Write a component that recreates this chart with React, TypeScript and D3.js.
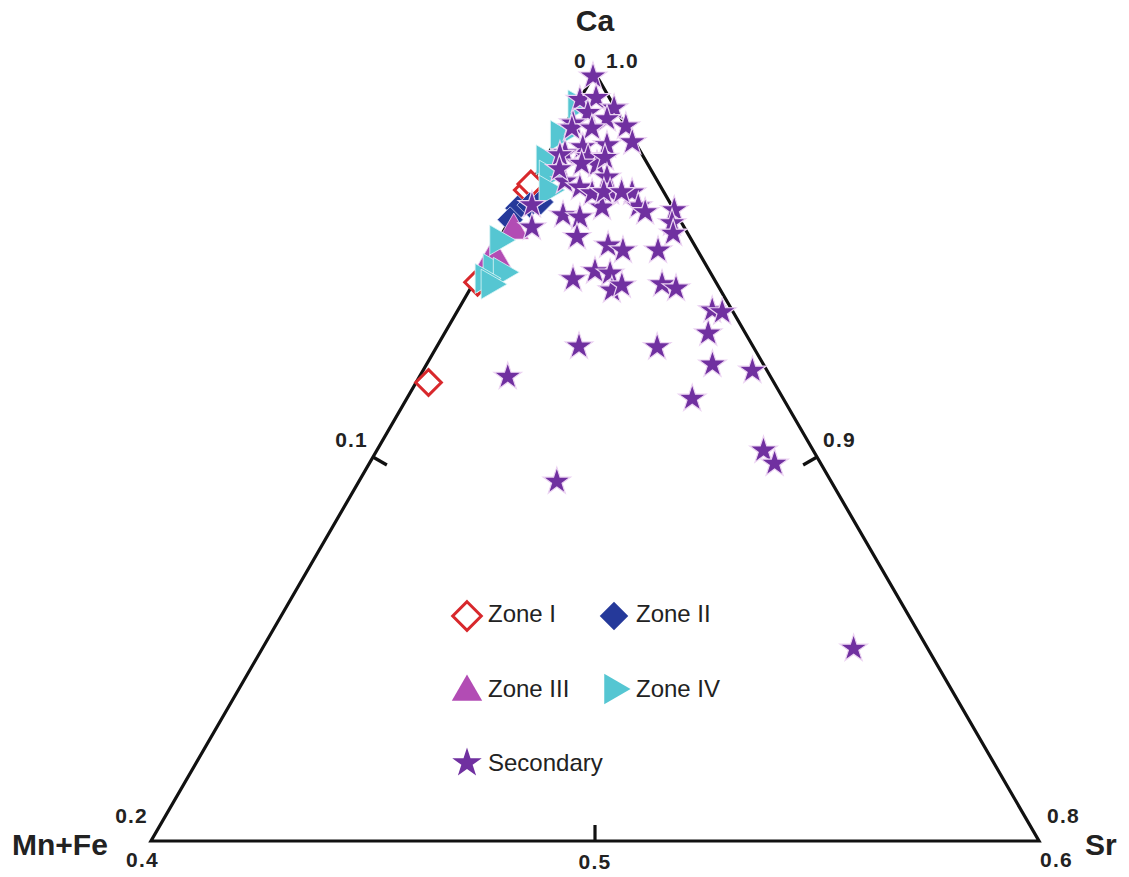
import React from "react";
import * as d3 from "d3";

const W = 1129;
const H = 877;

// Each point: [Mn+Fe, Sr] mole fractions; Ca = 1 − (Mn+Fe) − Sr
const zoneI: [number, number][] = [
  [0.0778, 0.0028], [0.0305, 0.0], [0.0289, 0.0], [0.0537, 0.0008],
];
const zoneII: [number, number][] = [
  [0.035, 0.0002], [0.0319, 0.0025], [0.029, 0.0046], [0.0382, 0.0],
];
const zoneIII: [number, number][] = [
  [0.0388, 0.0022], [0.0483, 0.0009], [0.0465, 0.0023],
];
const zoneIV: [number, number][] = [
  [0.0083, 0.0], [0.0162, 0.0], [0.0226, 0.0], [0.0239, 0.0027], [0.0259, 0.0046],
  [0.0435, 0.0], [0.0487, 0.0022], [0.0469, 0.005], [0.0518, 0.0017], [0.0512, 0.0038],
];
const secondary: [number, number][] = [
  [0.0009, 0.0], [0.0069, 0.0001], [0.003, 0.0035], [0.0003, 0.0089], [0.0068, 0.0036],
  [0.0115, 0.0016], [0.0033, 0.0087], [0.0, 0.0139], [0.0124, 0.002], [0.0079, 0.0065],
  [0.0006, 0.0174], [0.0067, 0.0121], [0.0124, 0.0069], [0.0172, 0.0037], [0.0125, 0.0094],
  [0.0115, 0.0124], [0.0088, 0.0133], [0.0209, 0.0073], [0.0183, 0.0115], [0.0109, 0.0163],
  [0.0163, 0.015], [0.0121, 0.0189], [0.0072, 0.0239], [0.0076, 0.0271], [0.0068, 0.0294],
  [0.0159, 0.0191], [0.0257, 0.0113], [0.0222, 0.0154], [0.0314, 0.003], [0.0343, 0.0059],
  [0.0186, 0.0028], [0.0, 0.0357], [0.0022, 0.0369], [0.0033, 0.0385], [0.0254, 0.0173],
  [0.0195, 0.0254], [0.0168, 0.0294], [0.0089, 0.0373], [0.0318, 0.0219], [0.0258, 0.0258],
  [0.0227, 0.0295], [0.0245, 0.0321], [0.0216, 0.0337], [0.0124, 0.0426], [0.0098, 0.0463],
  [0.0592, 0.0199], [0.0392, 0.032], [0.0217, 0.0497], [0.0084, 0.0594], [0.0045, 0.0573],
  [0.0025, 0.0598], [0.0115, 0.0644], [0.0033, 0.0742], [0.0205, 0.0643], [0.0112, 0.0871],
  [0.0104, 0.0913], [0.0618, 0.0446], [0.0167, 0.1332],
  [0.0205, 0.0045], [0.0148, 0.0088], [0.0135, 0.0175], [0.0095, 0.0215],
];

// Axis tick labels
const mnfeTicks = ["0", "0.1", "0.2"]; // left edge, apex → bottom-left
const caTicks = ["1.0", "0.9", "0.8"]; // right edge, apex → bottom-right
const bottomTicks = ["0.4", "0.5", "0.6"]; // bottom edge, left → right
const axisNames = { top: "Ca", left: "Mn+Fe", right: "Sr" };
const legendNames = ["Zone I", "Zone II", "Zone III", "Zone IV", "Secondary"];

const FONT = "'Liberation Sans', Arial, Helvetica, sans-serif";
const COL = {
  z1: "#d8282c",
  z2: "#25399a",
  z3: "#b24cb4",
  z4: "#55c6d2",
  sec: "#7030a0",
};

// scales: Ca controls y, (Sr − MnFe) controls x
const yScale = d3.scaleLinear().domain([0.8, 1.0]).range([841, 73]);
const xScale = d3.scaleLinear().domain([-0.2, 0.2]).range([151, 1039]);

function proj(mnfe: number, sr: number): [number, number] {
  const ca = 1 - mnfe - sr;
  return [xScale(sr - mnfe), yScale(ca)];
}

const starPath = d3.symbol().type(d3.symbolStar).size(235)()!;
const starLeg = d3.symbol().type(d3.symbolStar).size(270)()!;
const diamondPath = d3.symbol().type(d3.symbolDiamond2).size(420)()!;
const diamondLeg = d3.symbol().type(d3.symbolDiamond2).size(520)()!;
const triPath = d3.symbol().type(d3.symbolTriangle).size(390)()!;
const triLeg = d3.symbol().type(d3.symbolTriangle).size(400)()!;

export default function App() {
  const apex = proj(0, 0);
  const bl = proj(0.2, 0);
  const br = proj(0, 0.2);
  const tri = d3.line()([apex, bl, br, apex])! + "Z";

  const midL = proj(0.1, 0);
  const midR = proj(0, 0.1);
  const midB = proj(0.1, 0.1);
  const tl = 16;
  const tickStyle = { stroke: "#111", strokeWidth: 3.2 };

  const numStyle: React.CSSProperties = {
    fontFamily: FONT,
    fontWeight: 700,
    fontSize: 21,
    letterSpacing: 1.2,
    fill: "#222",
  };
  const nameStyle: React.CSSProperties = {
    fontFamily: FONT,
    fontWeight: 700,
    fontSize: 30,
    fill: "#222",
  };
  const legStyle: React.CSSProperties = {
    fontFamily: FONT,
    fontSize: 24,
    fill: "#222",
  };

  const mark = (pts: [number, number][], render: (x: number, y: number, i: number) => React.ReactNode) =>
    pts.map((p, i) => {
      const [x, y] = proj(p[0], p[1]);
      return render(x, y, i);
    });

  return (
    <svg width={W} height={H} style={{ display: "block", position: "absolute", left: 0, top: 0, background: "#fff" }}>
      <rect width={W} height={H} fill="#fff" />
      <path d={tri} fill="none" stroke="#111" strokeWidth={3.2} strokeLinejoin="miter" />
      {/* ticks */}
      <line x1={midL[0]} y1={midL[1]} x2={midL[0] + tl * Math.cos(Math.PI / 6)} y2={midL[1] + tl * Math.sin(Math.PI / 6)} style={tickStyle} />
      <line x1={midR[0]} y1={midR[1]} x2={midR[0] - tl * Math.cos(Math.PI / 6)} y2={midR[1] + tl * Math.sin(Math.PI / 6)} style={tickStyle} />
      <line x1={midB[0]} y1={midB[1]} x2={midB[0]} y2={midB[1] - tl} style={tickStyle} />

      {/* axis names */}
      <text x={apex[0]} y={31} textAnchor="middle" style={nameStyle}>{axisNames.top}</text>
      <text x={12} y={855} style={nameStyle}>{axisNames.left}</text>
      <text x={1085} y={855} style={nameStyle}>{axisNames.right}</text>

      {/* tick labels */}
      <text x={apex[0] - 8} y={68} textAnchor="end" style={numStyle}>{mnfeTicks[0]}</text>
      <text x={midL[0] - 5} y={447} textAnchor="end" style={numStyle}>{mnfeTicks[1]}</text>
      <text x={bl[0] - 3} y={823} textAnchor="end" style={numStyle}>{mnfeTicks[2]}</text>
      <text x={apex[0] + 11} y={68} style={numStyle}>{caTicks[0]}</text>
      <text x={midR[0] + 6} y={447} style={numStyle}>{caTicks[1]}</text>
      <text x={br[0] + 8} y={823} style={numStyle}>{caTicks[2]}</text>
      <text x={bl[0] - 25} y={867} style={numStyle}>{bottomTicks[0]}</text>
      <text x={midB[0]} y={869} textAnchor="middle" style={numStyle}>{bottomTicks[1]}</text>
      <text x={br[0] + 1} y={867} style={numStyle}>{bottomTicks[2]}</text>

      {/* data */}
      <g>
        {mark(zoneI, (x, y, i) => (
          <path key={"z1" + i} d={diamondPath} transform={`translate(${x},${y})`} fill="#fff" stroke={COL.z1} strokeWidth={3} />
        ))}
        {mark(zoneII, (x, y, i) => (
          <path key={"z2" + i} d={diamondPath} transform={`translate(${x},${y})`} fill={COL.z2} stroke="#c8d0f0" strokeWidth={0.8} />
        ))}
        {mark(zoneIII, (x, y, i) => (
          <path key={"z3" + i} d={triPath} transform={`translate(${x},${y})`} fill={COL.z3} stroke="#f0d0f0" strokeWidth={0.8} />
        ))}
        {mark(zoneIV, (x, y, i) => (
          <path key={"z4" + i} d={triPath} transform={`translate(${x},${y}) rotate(90)`} fill={COL.z4} stroke="#e0f6f8" strokeWidth={0.8} />
        ))}
        {mark(secondary, (x, y, i) => (
          <path key={"s" + i} d={starPath} transform={`translate(${x},${y})`} fill={COL.sec} stroke="#ecd4f2" strokeWidth={1.2} />
        ))}
      </g>

      {/* legend */}
      <g>
        <path d={diamondLeg} transform="translate(467,616)" fill="#fff" stroke={COL.z1} strokeWidth={3} />
        <text x={488} y={622} style={legStyle}>{legendNames[0]}</text>
        <path d={diamondLeg} transform="translate(614,616)" fill={COL.z2} />
        <text x={636} y={622} style={legStyle}>{legendNames[1]}</text>
        <path d={triLeg} transform="translate(467,692)" fill={COL.z3} />
        <text x={488} y={697} style={legStyle}>{legendNames[2]}</text>
        <path d={triLeg} transform="translate(613,689) rotate(90)" fill={COL.z4} />
        <text x={636} y={697} style={legStyle}>{legendNames[3]}</text>
        <path d={starLeg} transform="translate(467,763)" fill={COL.sec} />
        <text x={488} y={771} style={legStyle}>{legendNames[4]}</text>
      </g>
    </svg>
  );
}
